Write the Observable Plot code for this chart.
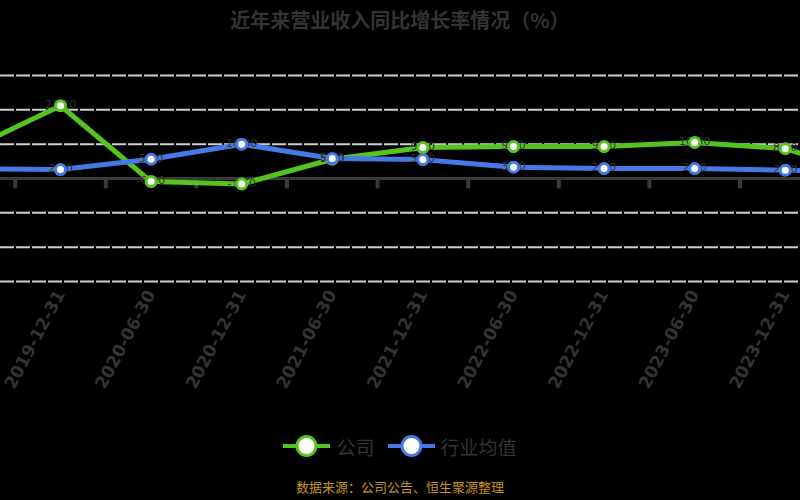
<!DOCTYPE html>
<html>
<head>
<meta charset="utf-8">
<script src="https://cdn.jsdelivr.net/npm/d3@7"></script>
<script src="https://cdn.jsdelivr.net/npm/@observablehq/plot@0.6"></script>
<style>
  html, body { margin: 0; padding: 0; background: #000; width: 800px; height: 500px; overflow: hidden; }
  body { font-family: "Noto Sans CJK SC", "DejaVu Sans", sans-serif; }
  #title { height: 45px; line-height: 40px; text-align: center; color: #333; font-size: 20px; font-weight: bold; }
  #chart { width: 800px; height: 380px; overflow: hidden; }
  #chart svg { overflow: hidden; }
  #legend { height: 42px; display: flex; justify-content: center; align-items: center; gap: 13px; color: #333; font-size: 19px; }
  .item { display: flex; align-items: center; gap: 6px; }
  #footer { text-align: center; color: #c8921e; font-size: 13px; line-height: 20px; padding-top: 10px; }
</style>
</head>
<body>
<div id="title"></div>
<div id="chart"></div>
<div id="legend"></div>
<div id="footer"></div>
<script>
const titleText = "近年来营业收入同比增长率情况（%）";
const footerText = "数据来源：公司公告、恒生聚源整理";
const seriesNames = ["公司", "行业均值"];
const seriesColors = ["#56c41f", "#4479e6"];
const dates = ["2019-06-30","2019-12-31","2020-06-30","2020-12-31","2021-06-30","2021-12-31","2022-06-30","2022-12-31","2023-06-30","2023-12-31","2024-06-30"];
const companyValues = [8.5, 21.2, -0.9, -1.6, 5.6, 9.0, 9.3, 9.3, 10.5, 8.7, 0.5];
const industryValues = [2.9, 2.6, 5.6, 10.0, 5.8, 5.5, 3.3, 2.9, 2.9, 2.4, 2.1];
const gridValues = [-30, -20, -10, 10, 20, 30];

document.getElementById("title").textContent = titleText;
document.getElementById("footer").textContent = footerText;

const data = [];
dates.forEach((d, i) => {
  data.push({i, date: d, s: seriesNames[0], v: companyValues[i]});
  data.push({i, date: d, s: seriesNames[1], v: industryValues[i]});
});
const visible = data.filter(d => d.i >= 1 && d.i <= 9);
const boundaries = dates.map((d, i) => i + 0.5).concat([-0.5]);

const color = {domain: seriesNames, range: seriesColors};
const plot = Plot.plot({
  width: 800,
  height: 380,
  marginLeft: 0,
  marginRight: 0,
  marginTop: 30,
  marginBottom: 144,
  style: {background: "transparent", overflow: "hidden", fontFamily: "DejaVu Sans, sans-serif"},
  x: {type: "linear", domain: [0.338, 9.168]},
  y: {domain: [-30, 30], axis: null},
  color,
  marks: [
    Plot.ruleY(gridValues, {stroke: "#d0d0d0", strokeWidth: 2, strokeDasharray: "14,2"}),
    Plot.ruleY([0], {stroke: "#3a3a3a", strokeWidth: 3}),
    Plot.ruleX(boundaries, {x: d => d, y1: 0, y2: -3.0, stroke: "#3a3a3a", strokeWidth: 4}),
    Plot.axisX(d3.range(1, 10), {tickFormat: i => dates[i], label: null, tickRotate: -62, tickSize: 0, tickPadding: 10, dx: 0, fontSize: 17, fontWeight: "bold", fill: "#333", stroke: null, textStroke: null}),
    Plot.line(data, {x: "i", y: "v", z: "s", stroke: "s", strokeWidth: 5, curve: "linear"}),
    Plot.text(visible, {x: "i", y: "v", text: d => d.v.toFixed(2), fill: "#333", fontSize: 11, dy: -1}),
    Plot.dot(data, {x: "i", y: "v", stroke: "s", fill: "white", r: 5, strokeWidth: 3})
  ]
});
document.getElementById("chart").appendChild(plot);

const legend = document.getElementById("legend");
seriesNames.forEach((name, k) => {
  const item = document.createElement("div");
  item.className = "item";
  item.innerHTML = `<svg width="47" height="26"><line x1="0" y1="13" x2="47" y2="13" stroke="${seriesColors[k]}" stroke-width="4"/><circle cx="23.5" cy="13" r="9.5" fill="white" stroke="${seriesColors[k]}" stroke-width="3"/></svg><span>${name}</span>`;
  legend.appendChild(item);
});
</script>
</body>
</html>
